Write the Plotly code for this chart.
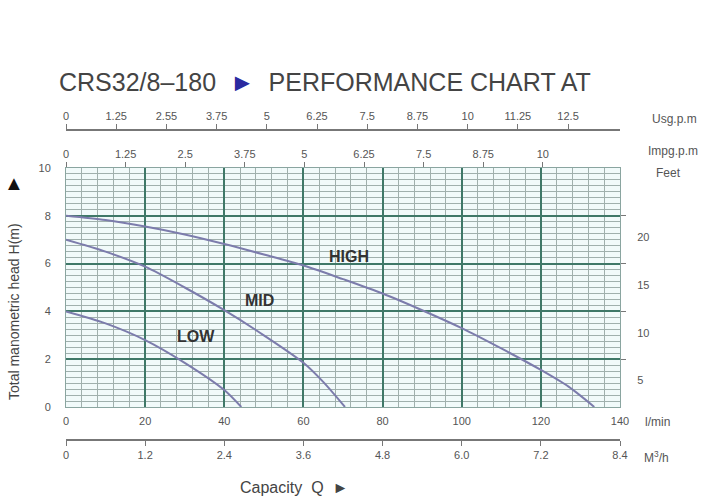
import plotly.graph_objects as go

# ---- data ----
flow_high = [0, 10, 20, 30, 40, 50, 60, 70, 80, 90, 100, 110, 120, 127, 133.5]
head_high = [8.0, 7.82, 7.55, 7.22, 6.82, 6.38, 5.92, 5.35, 4.75, 4.05, 3.3, 2.45, 1.55, 0.85, 0.0]

flow_mid = [0, 10, 20, 30, 40, 50, 60, 65, 70.5]
head_mid = [7.0, 6.5, 5.87, 5.0, 4.05, 3.0, 1.85, 1.05, 0.0]

flow_low = [0, 10, 20, 30, 40, 44.3]
head_low = [4.0, 3.5, 2.8, 1.85, 0.71, 0.0]

lpm_ticks = [0, 20, 40, 60, 80, 100, 120, 140]
m3h_ticks = [0, 1.2, 2.4, 3.6, 4.8, 6.0, 7.2, 8.4]
m3h_text = ["0", "1.2", "2.4", "3.6", "4.8", "6.0", "7.2", "8.4"]
usg_ticks = [0, 1.25, 2.5, 3.75, 5, 6.25, 7.5, 8.75, 10, 11.25, 12.5]
usg_text = ["0", "1.25", "2.55", "3.75", "5", "6.25", "7.5", "8.75", "10", "11.25", "12.5"]
impg_ticks = [0, 1.25, 2.5, 3.75, 5, 6.25, 7.5, 8.75, 10]
impg_text = ["0", "1.25", "2.5", "3.75", "5", "6.25", "7.5", "8.75", "10"]
head_ticks = [0, 2, 4, 6, 8, 10]
feet_pos = [1.13, 3.1, 5.1, 7.11]
feet_text = ["5", "10", "15", "20"]

curve_names = ["HIGH", "MID", "LOW"]
label_x = [71.5, 48.8, 32.9]
label_y = [6.28, 4.44, 2.93]

# ---- style ----
FONT = "Liberation Sans, Arial, sans-serif"
TXT = "#555555"
CURVE = "#7c7cac"
MAJOR = "#3f7868"
MINOR = "#a0b0ad"

fig = go.Figure()
for fx, hy, nm in zip([flow_high, flow_mid, flow_low], [head_high, head_mid, head_low], curve_names):
    fig.add_trace(go.Scatter(x=fx, y=hy, mode="lines", name=nm, showlegend=False,
                             line=dict(color=CURVE, width=2, shape="spline", smoothing=0.8),
                             hoverinfo="skip"))

# invisible traces to activate the extra axes
for xa, ya in [("x2", "y"), ("x3", "y"), ("x4", "y"), ("x", "y2"), ("x", "y3")]:
    fig.add_trace(go.Scatter(x=[0], y=[0], xaxis=xa, yaxis=ya, mode="markers",
                             marker=dict(opacity=0), showlegend=False, hoverinfo="skip"))

top_px, bot_px = 125, 45
H = 499
ph = H - top_px - bot_px
def py(pix):
    return (H - bot_px - pix) / ph
def px(pix):
    return (pix - 66) / 554

tickfont = dict(family=FONT, size=11, color=TXT)

fig.update_layout(
    width=720, height=499,
    margin=dict(l=66, r=100, t=top_px, b=bot_px),
    paper_bgcolor="white", plot_bgcolor="#f1fafa",
    font=dict(family=FONT),
    xaxis=dict(range=[0, 140], tickvals=lpm_ticks, ticks="outside", ticklen=4,
               tickcolor="rgba(0,0,0,0)", tickfont=tickfont,
               showgrid=True, gridcolor=MAJOR, gridwidth=2,
               minor=dict(dtick=4, tick0=0, showgrid=True, gridcolor=MINOR, gridwidth=1),
               showline=True, linecolor="#8aa5a0", linewidth=1, mirror=True,
               zeroline=False, fixedrange=True),
    xaxis2=dict(range=[0, 8.4], overlaying="x", anchor="free", position=py(440), side="bottom",
                tickvals=m3h_ticks, ticktext=m3h_text, ticks="outside", ticklen=5,
                tickcolor="#777777", tickfont=tickfont, showline=True, linecolor="#777777",
                linewidth=1.5, showgrid=False, zeroline=False),
    xaxis3=dict(range=[0, 140 / 10.15], overlaying="x", anchor="free", position=py(130), side="top",
                tickvals=usg_ticks, ticktext=usg_text, ticks="outside", ticklen=5,
                tickcolor="#777777", tickfont=tickfont, showline=True, linecolor="#777777",
                linewidth=1.5, showgrid=False, zeroline=False),
    xaxis4=dict(range=[0, 140 / 12.05], overlaying="x", anchor="y", side="top",
                tickvals=impg_ticks, ticktext=impg_text, ticks="outside", ticklen=5,
                tickcolor="#777777", tickfont=tickfont, showline=False,
                showgrid=False, zeroline=False),
    yaxis=dict(range=[0, 10], domain=[py(407), py(168)], tickvals=head_ticks, ticks="outside",
               ticklen=12, tickcolor="rgba(0,0,0,0)", tickfont=tickfont,
               showgrid=True, gridcolor=MAJOR, gridwidth=2,
               minor=dict(dtick=0.25, tick0=0, showgrid=True, gridcolor=MINOR, gridwidth=1),
               showline=True, linecolor="#8aa5a0", linewidth=1, mirror=True,
               zeroline=False),
    yaxis2=dict(range=[0, 10], overlaying="y", anchor="x", side="right",
                tickvals=[2, 4, 6, 8], ticks="outside", ticklen=5, tickcolor="#777777",
                showticklabels=False, showgrid=False, zeroline=False),
    yaxis3=dict(range=[0, 10], overlaying="y", anchor="x", side="right",
                tickvals=feet_pos, ticktext=feet_text, ticks="outside", ticklen=14,
                tickcolor="rgba(0,0,0,0)", tickfont=tickfont, showgrid=False, zeroline=False),
)

for nm, lx, ly in zip(curve_names, label_x, label_y):
    fig.add_annotation(x=lx, y=ly, xref="x", yref="y", text="<b>%s</b>" % nm, showarrow=False,
                       font=dict(family=FONT, size=16, color="#333333"))

def ann(text, xpix, ypix, size=12, color=TXT, xanchor="center", angle=0):
    fig.add_annotation(x=px(xpix), y=py(ypix), xref="paper", yref="paper", text=text,
                       showarrow=False, xanchor=xanchor, yanchor="middle", textangle=angle,
                       font=dict(family=FONT, size=size, color=color))

ann('CRS32/8\u2013180  <span style="color:#2a2aa0">\u25ba</span>  PERFORMANCE CHART AT', 57, 82,
    size=25, color="#444444", xanchor="left")
ann("Usg.p.m", 674, 119)
ann("Impg.p.m", 673, 151)
ann("Feet", 668, 173)
ann("l/min", 657, 422)
ann("M<sup>3</sup>/h", 656, 457)
ann("Capacity  Q  \u25ba", 294, 487, size=16, color="#444444")
ann("Total manometric head H(m)", 14, 312, size=14, color="#444444", angle=-90)
ann("\u25b2", 14, 183, size=20, color="#111111")

fig.write_html("out.html")
